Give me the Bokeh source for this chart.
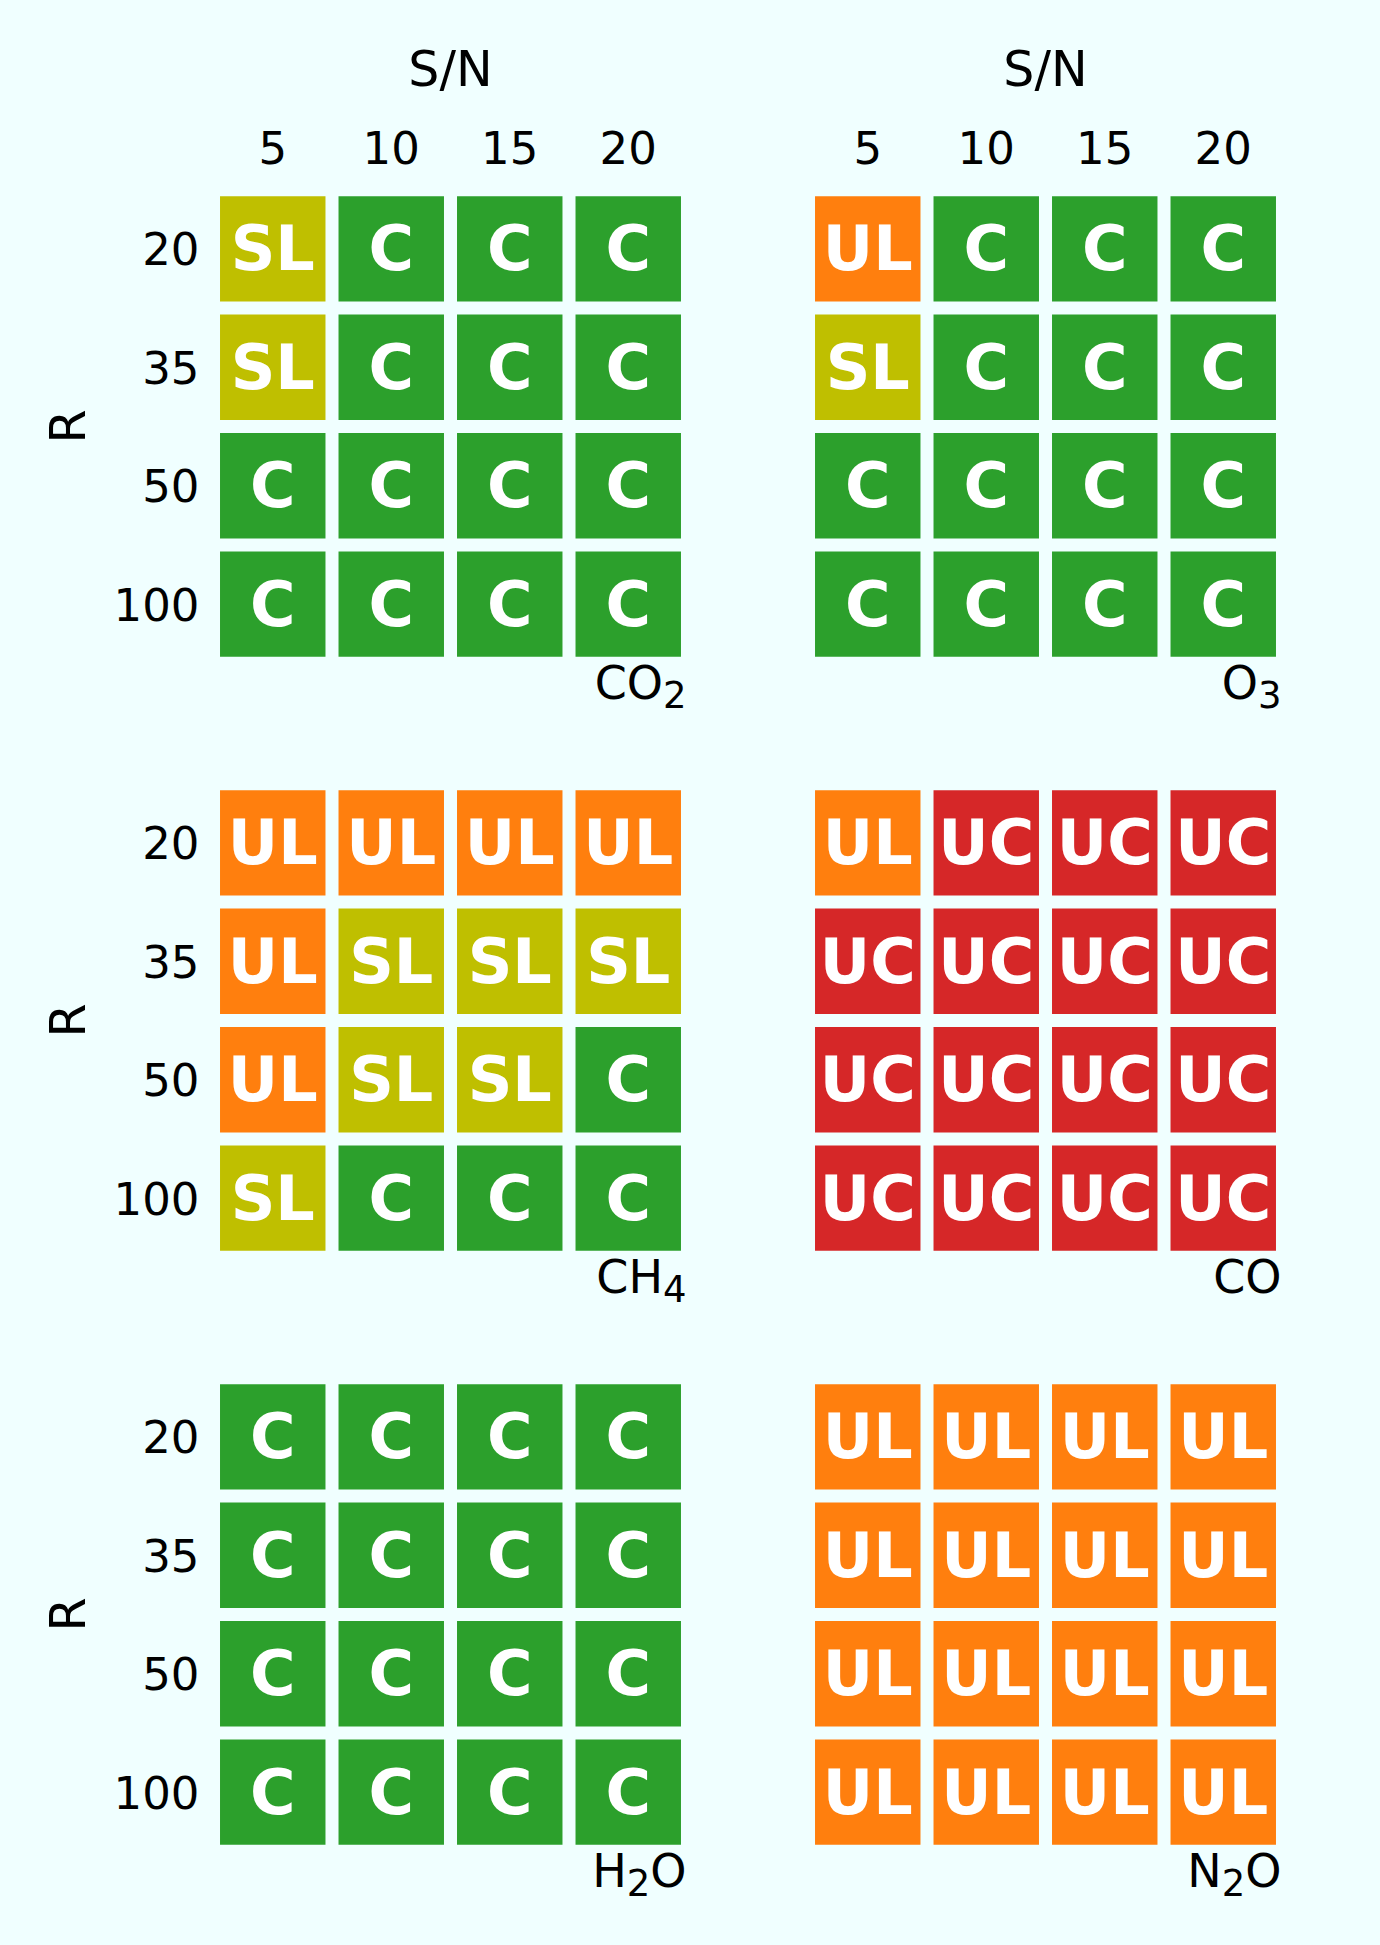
from bokeh.plotting import figure
from bokeh.models import FactorRange, Range1d, FixedTicker, ColumnDataSource
from bokeh.layouts import gridplot
from bokeh.core.properties import value
from bokeh.embed import file_html
from bokeh.resources import INLINE

# ---- data ----
SN = [5, 10, 15, 20]          # S/N (columns)
R = [20, 35, 50, 100]         # R (rows, top to bottom)

GAS_NAMES = ["CO2", "O3", "CH4", "CO", "H2O", "N2O"]   # digits drawn as subscripts

CO2 = [["SL", "C", "C", "C"],
       ["SL", "C", "C", "C"],
       ["C", "C", "C", "C"],
       ["C", "C", "C", "C"]]
O3 = [["UL", "C", "C", "C"],
      ["SL", "C", "C", "C"],
      ["C", "C", "C", "C"],
      ["C", "C", "C", "C"]]
CH4 = [["UL", "UL", "UL", "UL"],
       ["UL", "SL", "SL", "SL"],
       ["UL", "SL", "SL", "C"],
       ["SL", "C", "C", "C"]]
CO = [["UL", "UC", "UC", "UC"],
      ["UC", "UC", "UC", "UC"],
      ["UC", "UC", "UC", "UC"],
      ["UC", "UC", "UC", "UC"]]
H2O = [["C", "C", "C", "C"],
       ["C", "C", "C", "C"],
       ["C", "C", "C", "C"],
       ["C", "C", "C", "C"]]
N2O = [["UL", "UL", "UL", "UL"],
       ["UL", "UL", "UL", "UL"],
       ["UL", "UL", "UL", "UL"],
       ["UL", "UL", "UL", "UL"]]
GAS_STATUS = [CO2, O3, CH4, CO, H2O, N2O]

STATUS_COLORS = {"C": "#2ca02c", "SL": "#bfbf00", "UL": "#ff7f0e", "UC": "#d62728"}

BG = "#f0ffff"
FONT = "DejaVu Sans"

# ---- layout geometry (pixels) ----
COL_W = [747, 625]
COL_BL = [213, 61]
COL_BR = [60, 90]
ROW_H = [722, 594, 613]
ROW_BT = [130, 2, 2]
ROW_BB = [0, 0, 19]

MAIN_PX = 46
SUB_PX = 37
MAIN_DY = 20
SUB_DY = 31
ADV = {"C": 0.698, "O": 0.787, "H": 0.752, "N": 0.748}


def segments(name):
    segs = []
    for ch in name:
        sub = ch.isdigit()
        if segs and segs[-1][1] == sub:
            segs[-1][0] += ch
        else:
            segs.append([ch, sub])
    return segs


def panel(idx):
    row, col = divmod(idx, 2)
    sn_f = [str(s) for s in SN]
    n = len(R)
    p = figure(width=COL_W[col], height=ROW_H[row],
               x_range=FactorRange(*sn_f), y_range=Range1d(n + 1, 0),
               x_axis_location="above", y_axis_location="left",
               output_backend="svg", toolbar_location=None,
               min_border_left=COL_BL[col], min_border_right=COL_BR[col],
               min_border_top=ROW_BT[row], min_border_bottom=ROW_BB[row],
               background_fill_color=BG, border_fill_color=BG,
               outline_line_color=None)
    xs, ys, st, cl = [], [], [], []
    grid = GAS_STATUS[idx]
    for i, rv in enumerate(R):
        for j, sv in enumerate(sn_f):
            xs.append(sv)
            ys.append(i + 1)
            st.append(grid[i][j])
            cl.append(STATUS_COLORS[grid[i][j]])
    src = ColumnDataSource(dict(x=xs, y=ys, s=st, c=cl))
    p.rect(x="x", y="y", width=0.89, height=0.89, fill_color="c",
           line_color=None, source=src)
    p.text(x="x", y="y", text="s", text_color="white",
           text_font=value(FONT), text_font_style="bold",
           text_font_size="62px", text_align="center",
           text_baseline="middle", source=src)

    p.grid.visible = False
    p.yaxis.ticker = FixedTicker(ticks=[i + 1 for i in range(n)])
    p.yaxis.major_label_overrides = {i + 1: str(v) for i, v in enumerate(R)}
    for ax in (p.xaxis[0], p.yaxis[0]):
        ax.axis_line_color = None
        ax.major_tick_line_color = None
        ax.minor_tick_line_color = None
        ax.major_tick_out = 0
        ax.major_tick_in = 0
        ax.minor_tick_out = 0
        ax.minor_tick_in = 0
        ax.major_label_text_font = FONT
        ax.major_label_text_font_size = "45px"
        ax.major_label_text_color = "black"
        ax.axis_label_text_font = FONT
        ax.axis_label_text_font_size = "49px"
        ax.axis_label_text_font_style = "normal"
        ax.axis_label_text_color = "black"
    if row == 0:
        p.xaxis.axis_label = "S/N"
        p.xaxis.major_label_standoff = -33
        p.xaxis.axis_label_standoff = 30
    else:
        p.xaxis.visible = False
    if col == 0:
        p.yaxis.axis_label = "R"
        p.yaxis.major_label_standoff = 14
        p.yaxis.axis_label_standoff = 14
    else:
        p.yaxis.visible = False

    # gas label, right-aligned below the grid, digits as subscripts
    cursor = -1.0
    for txt, sub in reversed(segments(GAS_NAMES[idx])):
        size = SUB_PX if sub else MAIN_PX
        p.text(x=len(SN), y=n + 0.5, text=[txt], x_offset=cursor,
               y_offset=SUB_DY if sub else MAIN_DY, text_align="right",
               text_baseline="alphabetic", text_font=value(FONT),
               text_font_size=f"{size}px", text_color="black")
        cursor -= sum(0.636 if c.isdigit() else ADV[c] for c in txt) * size
    return p


figs = [panel(i) for i in range(6)]
layout = gridplot([[figs[0], figs[1]], [figs[2], figs[3]], [figs[4], figs[5]]],
                  toolbar_location=None)

html = file_html(layout, INLINE)
html = html.replace("</head>", "<style>html,body{background:#f0ffff;}</style></head>", 1)
open("out.html", "w").write(html)
